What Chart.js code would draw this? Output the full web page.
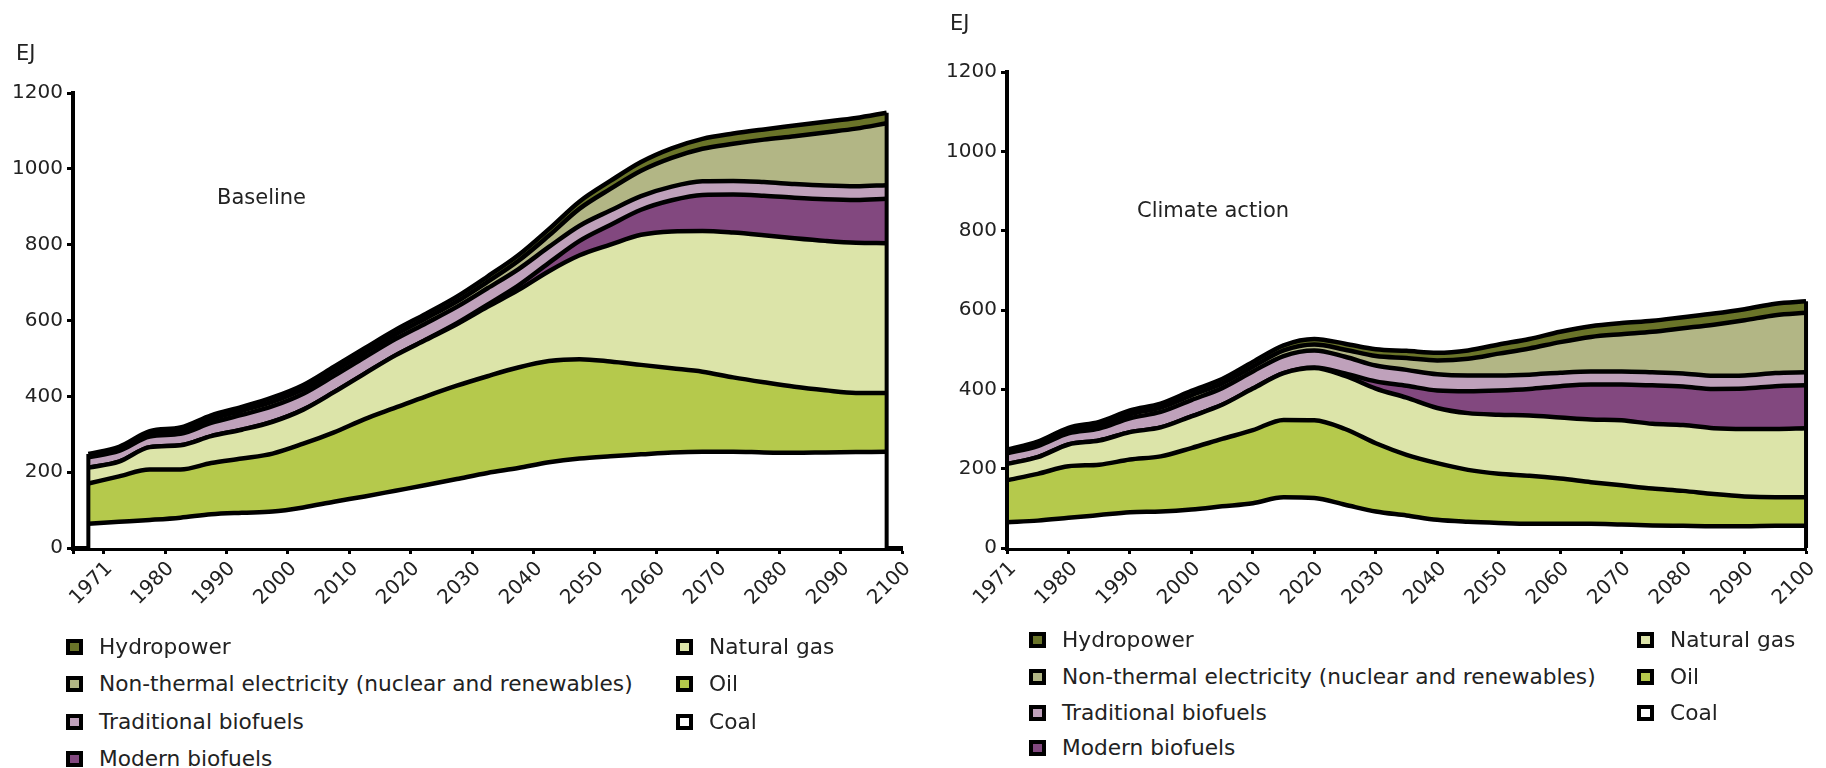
<!DOCTYPE html>
<html>
<head>
<meta charset="utf-8">
<script src="https://cdn.jsdelivr.net/npm/chart.js@4.4.1/dist/chart.umd.min.js"></script>
<style>
  html, body { margin: 0; padding: 0; background: #fff; }
  body { width: 1826px; height: 768px; position: relative; overflow: hidden;
         font-family: "DejaVu Sans", Verdana, sans-serif; color: #222; }
  canvas { position: absolute; top: 0; }
  .txt { position: absolute; font-size: 21px; line-height: 21px; white-space: nowrap; }
  .leg { position: absolute; height: 22px; font-size: 21.7px; line-height: 22px; white-space: nowrap;
         display: flex; align-items: center; }
  .leg i { display: inline-block; box-sizing: border-box; width: 17px; height: 16px;
           border: 4px solid #000; margin-right: 16px; }
</style>
</head>
<body>
<canvas id="baseline" width="940" height="640" style="left:0px"></canvas>
<canvas id="climate" width="896" height="640" style="left:930px"></canvas>

<div class="txt" style="left:16px;top:43px">EJ</div>
<div class="txt" style="left:950px;top:13px">EJ</div>
<div class="txt" style="left:217px;top:187px">Baseline</div>
<div class="txt" style="left:1137px;top:200px">Climate action</div>

<div id="legend-baseline"></div>
<div id="legend-climate"></div>

<script>
// Time axis: 1971, then every five years to 2100
const years = [1971, 1975, 1980, 1985, 1990, 1995, 2000, 2005, 2010, 2015, 2020, 2025, 2030,
               2035, 2040, 2045, 2050, 2055, 2060, 2065, 2070, 2075, 2080, 2085, 2090, 2095, 2100];
// Years that carry a label on the time axis
const tickYears = [1971, 1980, 1990, 2000, 2010, 2020, 2030, 2040, 2050, 2060, 2070, 2080, 2090, 2100];

// Energy carriers, bottom of the stack first
const carriers = ['Coal', 'Oil', 'Natural gas', 'Modern biofuels', 'Traditional biofuels',
                  'Non-thermal electricity (nuclear and renewables)', 'Hydropower'];
const carrierColors = ['#ffffff', '#b5c94c', '#dce4a9', '#82487f', '#bfa1bb', '#b2b685', '#6a7429'];

// Baseline scenario, primary energy in EJ
const baseCoal    = [64, 69, 74, 80, 89, 93, 96, 107, 122, 136, 151, 166, 182, 198, 211, 226, 236, 242, 247, 252, 254, 254, 252, 251, 252, 253, 254];
const baseOil     = [106, 120, 133, 127, 135, 143, 153, 168, 183, 204, 219, 234, 246, 255, 265, 267, 262, 250, 236, 222, 211, 196, 185, 174, 164, 156, 155];
const baseGas     = [42, 39, 59, 64, 71, 76, 84, 90, 106, 120, 138, 149, 162, 183, 204, 237, 274, 308, 343, 361, 371, 382, 388, 392, 394, 396, 395];
const baseModern  = [0, 0, 0, 0, 0, 0, 0, 0, 0, 0, 0, 1, 3, 6, 12, 22, 38, 52, 66, 82, 95, 100, 104, 107, 110, 113, 117];
const baseTrad    = [27, 28, 28, 30, 35, 39, 41, 42, 43, 43, 43, 43, 43, 43, 43, 42, 40, 38, 36, 36, 36, 36, 36, 36, 36, 36, 36];
const baseNonTh   = [3, 4, 6, 8, 10, 11, 12, 12, 12, 12, 12, 13, 14, 17, 22, 30, 45, 57, 67, 76, 86, 98, 112, 126, 140, 152, 163];
const baseHydro   = [6, 7, 8, 9, 10, 10, 11, 11, 12, 12, 12, 12, 13, 14, 15, 17, 19, 21, 23, 25, 26, 27, 27, 28, 28, 28, 28];

// Climate action scenario, primary energy in EJ
const climCoal    = [65, 69, 76, 83, 90, 92, 97, 105, 113, 128, 126, 109, 92, 82, 71, 66, 63, 61, 61, 61, 59, 57, 56, 55, 55, 56, 56];
const climOil     = [106, 118, 130, 127, 133, 139, 155, 170, 184, 195, 196, 191, 172, 153, 143, 131, 124, 121, 114, 105, 99, 93, 88, 81, 75, 72, 72];
const climGas     = [41, 42, 55, 61, 69, 73, 80, 86, 105, 118, 132, 134, 138, 144, 139, 143, 149, 152, 154, 158, 164, 163, 166, 166, 170, 172, 174];
const climModern  = [0, 0, 0, 0, 0, 0, 0, 0, 0, 0, 1, 6, 18, 30, 44, 55, 61, 67, 79, 88, 90, 97, 97, 99, 102, 108, 108];
const climTrad    = [27, 28, 28, 30, 35, 39, 41, 42, 43, 43, 43, 42, 40, 40, 41, 40, 38, 36, 34, 33, 33, 33, 33, 33, 33, 33, 33];
const climNonTh   = [3, 4, 6, 8, 10, 11, 12, 12, 12, 14, 15, 18, 24, 30, 35, 42, 55, 66, 77, 87, 94, 102, 114, 129, 139, 146, 150];
const climHydro   = [6, 7, 8, 9, 10, 10, 11, 11, 12, 13, 14, 15, 17, 18, 19, 21, 23, 24, 26, 27, 28, 28, 28, 28, 28, 29, 29];

// Y axis
const yMin = 0, yMax = 1200, yStep = 200;

// Legend order: two columns
const legendColumns = [[6, 5, 4, 3], [2, 1, 0]];

const FONT = '"DejaVu Sans", Verdana, sans-serif';
const TEXT = '#222';

function makeDatasets(series) {
  return series.map((values, k) => ({
    label: carriers[k],
    data: values,
    backgroundColor: carrierColors[k],
    borderColor: '#000',
    borderWidth: 4.5,
    pointRadius: 0,
    cubicInterpolationMode: 'monotone',
    fill: k === 0 ? 'origin' : '-1'
  }));
}

// Black outline on both ends of the stacked area
const areaEdges = {
  id: 'areaEdges',
  afterDatasetsDraw(chart) {
    const { ctx, scales: { x, y } } = chart;
    const n = chart.data.labels.length;
    const total = i => chart.data.datasets.reduce((s, d) => s + d.data[i], 0);
    ctx.save();
    ctx.strokeStyle = '#000';
    ctx.lineWidth = 4;
    [0, n - 1].forEach(i => {
      const px = x.getPixelForValue(i);
      ctx.beginPath();
      ctx.moveTo(px, y.getPixelForValue(0));
      ctx.lineTo(px, y.getPixelForValue(total(i)));
      ctx.stroke();
    });
    ctx.restore();
  }
};

function makeChart(id, series, cfg) {
  const xTicksShown = ctx => ctx.type === 'tick' ? cfg.tickShown(ctx.index) : true;
  return new Chart(document.getElementById(id), {
    type: 'line',
    data: { labels: years, datasets: makeDatasets(series) },
    options: {
      responsive: false,
      devicePixelRatio: 1,
      animation: false,
      layout: { padding: cfg.padding },
      plugins: { legend: { display: false }, tooltip: { enabled: false } },
      scales: {
        x: {
          type: 'category',
          offset: cfg.offset,
          z: 1,
          grid: {
            offset: cfg.offset,
            drawOnChartArea: false,
            drawTicks: true,
            tickLength: 6,
            tickWidth: 3,
            tickColor: ctx => xTicksShown(ctx) ? '#000' : 'rgba(0,0,0,0)'
          },
          border: { display: true, color: '#000', width: 5 },
          ticks: {
            autoSkip: false,
            minRotation: 45,
            maxRotation: 45,
            labelOffset: cfg.labelOffset,
            padding: 3,
            color: TEXT,
            font: { family: FONT, size: 20 },
            callback: (v, i) => tickYears.includes(years[i]) ? String(years[i]) : ''
          },
          afterFit: s => { s.height = 70; }
        },
        y: {
          stacked: true,
          min: yMin,
          max: yMax,
          z: 1,
          grid: { drawOnChartArea: false, tickLength: 6, tickWidth: 3, tickColor: '#000' },
          border: { display: true, color: '#000', width: 4 },
          ticks: {
            stepSize: yStep,
            padding: 4,
            color: TEXT,
            font: { family: FONT, size: 20 },
            callback: v => String(v)
          },
          afterFit: s => { s.width = cfg.yWidth; }
        }
      }
    },
    plugins: [areaEdges]
  });
}

makeChart('baseline',
  [baseCoal, baseOil, baseGas, baseModern, baseTrad, baseNonTh, baseHydro],
  { padding: { left: 0, top: 93, right: 38, bottom: 22 }, yWidth: 73, offset: true, labelOffset: 21,
    tickShown: i => i === 0 || i % 2 === 1 });

makeChart('climate',
  [climCoal, climOil, climGas, climModern, climTrad, climNonTh, climHydro],
  { padding: { left: 0, top: 72, right: 8, bottom: 22 }, yWidth: 77, offset: false, labelOffset: 6,
    tickShown: i => i % 2 === 0 });

// Two-column legends under each chart
function buildLegend(containerId, colX, rowY) {
  const box = document.getElementById(containerId);
  legendColumns.forEach((col, c) => {
    col.forEach((k, r) => {
      const item = document.createElement('div');
      item.className = 'leg';
      item.style.left = colX[c] + 'px';
      item.style.top = (rowY[r] - 11) + 'px';
      const sw = document.createElement('i');
      sw.style.background = carrierColors[k];
      item.appendChild(sw);
      item.appendChild(document.createTextNode(carriers[k]));
      box.appendChild(item);
    });
  });
}
buildLegend('legend-baseline', [66, 676], [647, 684, 722, 759]);
buildLegend('legend-climate', [1029, 1637], [640, 677, 713, 748]);
</script>
</body>
</html>
